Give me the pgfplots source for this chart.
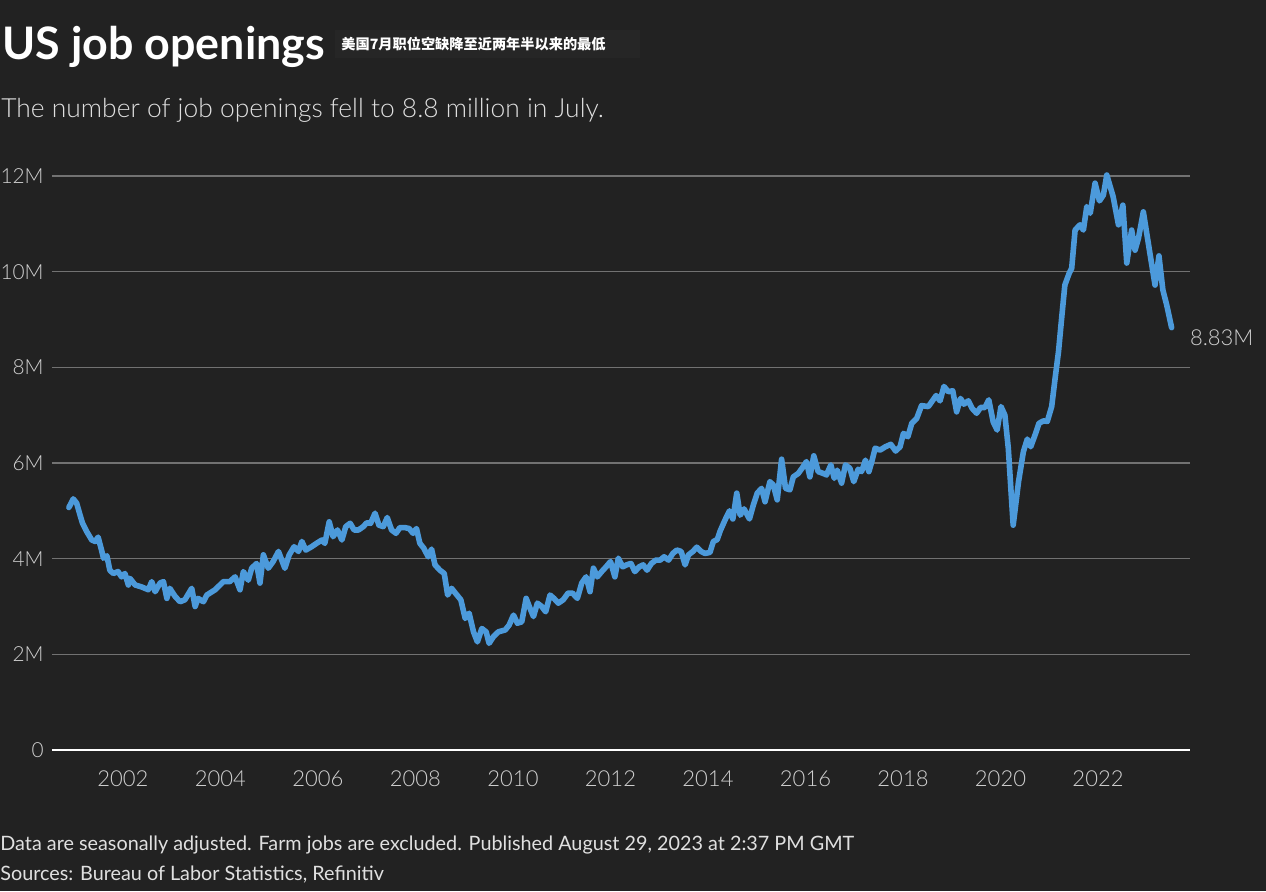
\documentclass[border=0pt]{standalone}
\usepackage{pgfplots}
\pgfplotsset{compat=1.18}
\usepackage{fontspec}
\setmainfont{Lato}
\newfontfamily\lightfont{Lato Light}
\newfontfamily\cjk{Noto Sans CJK SC}
\definecolor{bg}{HTML}{222222}
\definecolor{boxc}{HTML}{262626}
\definecolor{linec}{HTML}{4C9ADB}
\definecolor{gridc}{HTML}{727272}
\definecolor{tickc}{HTML}{D0D0D0}
\definecolor{subc}{HTML}{E0E0E0}
\begin{document}
\begin{tikzpicture}
\fill[bg] (0pt,0pt) rectangle (633pt,445.5pt);
\useasboundingbox (0pt,0pt) rectangle (633pt,445.5pt);
\fill[boxc] (167.5pt,416.5pt) rectangle (320pt,430.5pt);
\node[anchor=base west, inner sep=0pt, text=white, font=\fontsize{22.4}{26}\selectfont\bfseries] at (1pt,415.5pt) {US job openings};
\node[anchor=base west, inner sep=0pt, text=white, font=\fontsize{7.1}{8}\selectfont\cjk\bfseries] at (170.5pt,420.5pt) {美国7月职位空缺降至近两年半以来的最低};
\node[anchor=base west, inner sep=0pt, text=subc, font=\fontsize{13.2}{15}\selectfont\lightfont] at (0.5pt,386.5pt) {The number of job openings fell to 8.8 million in July.};
\node[anchor=base west, inner sep=0pt, text=subc, font=\fontsize{9.9}{12}\selectfont] at (0pt,20.5pt) {Data are seasonally adjusted. Farm jobs are excluded. Published August 29, 2023 at 2:37 PM GMT};
\node[anchor=base west, inner sep=0pt, text=subc, font=\fontsize{9.9}{12}\selectfont] at (0pt,5.5pt) {Sources: Bureau of Labor Statistics, Refinitiv};
\begin{axis}[
  at={(26pt,70.5pt)}, anchor=south west,
  scale only axis, width=569pt, height=287pt,
  xmin=2000.544, xmax=2023.887, ymin=0, ymax=12,
  clip=false,
  axis line style={draw=none},
  major tick length=0pt,
  xtick={2002,2004,2006,2008,2010,2012,2014,2016,2018,2020,2022},
  xticklabels={2002,2004,2006,2008,2010,2012,2014,2016,2018,2020,2022},
  ytick={2,4,6,8,10,12},
  yticklabels={2M,4M,6M,8M,10M,12M},
  extra y ticks={0},
  extra y tick labels={0},
  extra y tick style={grid style={white, line width=1pt}},
  ymajorgrids=true,
  grid style={gridc, line width=0.7pt},
  ticklabel style={font=\fontsize{11}{13}\selectfont\lightfont, text=tickc},
  yticklabel style={anchor=east, inner sep=0pt, xshift=-4pt, font=\fontsize{10.4}{12}\selectfont\lightfont},
  xticklabel style={anchor=north, inner sep=0pt, yshift=-10pt},
]
\addplot[linec, line width=2.8pt, line join=round, line cap=round] coordinates {
(2000.89,5.07)(2000.98,5.25)(2001.05,5.16)(2001.12,4.91)(2001.17,4.74)(2001.26,4.56)
(2001.36,4.39)(2001.43,4.36)(2001.49,4.45)(2001.56,4.18)(2001.60,4.01)(2001.67,4.06)
(2001.73,3.76)(2001.80,3.69)(2001.90,3.73)(2001.97,3.62)(2002.04,3.69)(2002.11,3.45)
(2002.14,3.59)(2002.25,3.45)(2002.38,3.41)(2002.52,3.35)(2002.59,3.52)(2002.66,3.31)
(2002.76,3.49)(2002.83,3.52)(2002.90,3.17)(2002.96,3.38)(2003.07,3.21)(2003.17,3.10)
(2003.27,3.14)(2003.41,3.38)(2003.48,3.00)(2003.54,3.17)(2003.65,3.10)(2003.72,3.24)
(2003.89,3.35)(2004.06,3.52)(2004.19,3.52)(2004.30,3.62)(2004.40,3.35)(2004.47,3.73)
(2004.57,3.55)(2004.64,3.80)(2004.74,3.90)(2004.81,3.49)(2004.88,4.08)(2004.98,3.80)
(2005.08,3.94)(2005.19,4.15)(2005.32,3.80)(2005.41,4.08)(2005.51,4.25)(2005.60,4.15)
(2005.67,4.36)(2005.75,4.18)(2005.87,4.25)(2005.97,4.32)(2006.08,4.39)(2006.14,4.32)
(2006.23,4.77)(2006.31,4.46)(2006.40,4.60)(2006.49,4.39)(2006.57,4.67)(2006.66,4.74)
(2006.74,4.60)(2006.83,4.60)(2006.93,4.67)(2007.00,4.75)(2007.08,4.74)(2007.17,4.95)
(2007.25,4.70)(2007.34,4.67)(2007.42,4.86)(2007.51,4.60)(2007.60,4.53)(2007.68,4.65)
(2007.78,4.65)(2007.87,4.63)(2007.95,4.53)(2008.02,4.63)(2008.09,4.32)(2008.17,4.22)
(2008.26,4.04)(2008.33,4.20)(2008.40,3.87)(2008.50,3.76)(2008.59,3.69)(2008.66,3.24)
(2008.74,3.38)(2008.85,3.24)(2008.93,3.14)(2009.02,2.75)(2009.10,2.86)(2009.19,2.47)
(2009.27,2.26)(2009.36,2.54)(2009.45,2.47)(2009.51,2.23)(2009.60,2.37)(2009.70,2.47)
(2009.84,2.51)(2009.92,2.61)(2010.01,2.82)(2010.09,2.65)(2010.18,2.68)(2010.27,3.17)
(2010.35,2.96)(2010.42,2.79)(2010.50,3.07)(2010.59,3.00)(2010.67,2.89)(2010.76,3.24)
(2010.84,3.17)(2010.93,3.07)(2011.03,3.14)(2011.13,3.28)(2011.22,3.28)(2011.32,3.17)
(2011.41,3.49)(2011.50,3.62)(2011.58,3.31)(2011.65,3.80)(2011.73,3.62)(2011.82,3.73)
(2011.91,3.83)(2012.00,3.94)(2012.09,3.62)(2012.16,4.01)(2012.25,3.83)(2012.33,3.87)
(2012.42,3.90)(2012.50,3.73)(2012.59,3.83)(2012.67,3.87)(2012.75,3.76)(2012.84,3.90)
(2012.93,3.97)(2013.02,3.97)(2013.10,4.04)(2013.19,3.97)(2013.28,4.11)(2013.36,4.18)
(2013.45,4.15)(2013.53,3.87)(2013.60,4.08)(2013.69,4.15)(2013.77,4.24)(2013.86,4.15)
(2013.94,4.11)(2014.04,4.13)(2014.11,4.36)(2014.19,4.40)(2014.25,4.58)(2014.35,4.81)
(2014.44,5.00)(2014.51,4.83)(2014.59,5.37)(2014.66,4.91)(2014.74,5.04)(2014.85,4.83)
(2014.93,5.12)(2015.01,5.37)(2015.10,5.47)(2015.17,5.19)(2015.27,5.61)(2015.34,5.54)
(2015.42,5.23)(2015.51,6.08)(2015.59,5.47)(2015.68,5.44)(2015.75,5.71)(2015.85,5.78)
(2015.93,5.89)(2016.02,6.03)(2016.09,5.71)(2016.17,6.15)(2016.26,5.82)(2016.37,5.78)
(2016.43,5.75)(2016.52,5.96)(2016.59,5.68)(2016.65,5.85)(2016.74,5.58)(2016.82,5.96)
(2016.91,5.89)(2016.99,5.61)(2017.08,5.87)(2017.15,5.82)(2017.23,6.06)(2017.30,5.82)
(2017.36,6.03)(2017.43,6.31)(2017.53,6.27)(2017.64,6.34)(2017.75,6.39)(2017.85,6.25)
(2017.94,6.34)(2018.01,6.62)(2018.10,6.55)(2018.18,6.83)(2018.28,6.93)(2018.38,7.20)
(2018.52,7.18)(2018.68,7.41)(2018.76,7.30)(2018.84,7.60)(2018.93,7.49)(2019.02,7.51)
(2019.10,7.07)(2019.18,7.35)(2019.25,7.23)(2019.34,7.30)(2019.42,7.14)(2019.51,7.04)
(2019.59,7.16)(2019.68,7.16)(2019.76,7.32)(2019.85,6.86)(2019.93,6.69)(2020.01,7.18)
(2020.09,7.00)(2020.16,6.31)(2020.26,4.70)(2020.37,5.61)(2020.47,6.24)(2020.55,6.50)
(2020.62,6.34)(2020.71,6.59)(2020.79,6.83)(2020.88,6.88)(2020.96,6.87)(2021.05,7.18)
(2021.12,7.77)(2021.19,8.33)(2021.26,9.09)(2021.32,9.72)(2021.41,9.97)(2021.46,10.07)
(2021.53,10.87)(2021.63,10.98)(2021.70,10.87)(2021.77,11.36)(2021.84,11.22)(2021.94,11.85)
(2022.03,11.48)(2022.11,11.60)(2022.18,12.02)(2022.31,11.57)(2022.42,10.98)(2022.51,11.39)
(2022.59,10.18)(2022.69,10.87)(2022.76,10.45)(2022.83,10.70)(2022.93,11.25)(2023.07,10.35)
(2023.17,9.72)(2023.25,10.33)(2023.33,9.62)(2023.41,9.30)(2023.51,8.83)
};
\node[anchor=west, inner sep=0pt, text=tickc, font=\fontsize{11}{13}\selectfont\lightfont, xshift=9pt, yshift=-5pt] at (axis cs:2023.51,8.83) {8.83M};
\end{axis}
\end{tikzpicture}
\end{document}
